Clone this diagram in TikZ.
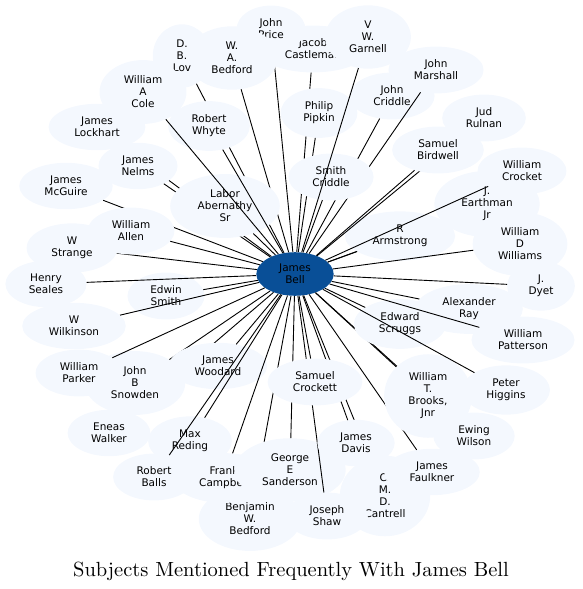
\documentclass[tikz,border=0pt]{standalone}
\usepackage{fontspec}
\newfontfamily\lbl{DejaVu Sans}
\newfontfamily\ttl{lmroman10-regular}[Extension=.otf]
\usetikzlibrary{shapes.geometric}
\definecolor{satfill}{RGB}{244,248,254}
\definecolor{hubfill}{RGB}{9,79,151}
\tikzset{
  sat/.style={ellipse, fill=satfill, inner xsep=11.5pt, inner ysep=6.5pt, align=center,
    font=\lbl\fontsize{10.5}{12}\selectfont, text=black},
  hub/.style={sat, fill=hubfill, inner ysep=5.5pt},
  link/.style={line width=0.9pt, black},
}
\begin{document}
\begin{tikzpicture}[x=1pt,y=-1pt]
\useasboundingbox (0,0) rectangle (583,589);
\node[hub] (jb) at (295,274) {James\\Bell};
% top
\node[sat] (jacob) at (313,49) {Jacob\\Castleman}; \draw[link] (jb) -- (jacob);
\node[sat] (price) at (271,29) {John\\Price}; \draw[link] (jb) -- (price);
\node[sat] (wab) at (232,58) {W.\\A.\\Bedford}; \draw[link] (jb) -- (wab);
\node[sat] (db) at (182,56) {D.\\B.\\Lov}; \draw[link] (jb) -- (db);
\node[sat] (jcri) at (392,96) {John\\Criddle}; \draw[link] (jb) -- (jcri);
\node[sat] (marsh) at (436,70) {John\\Marshall}; \draw[link] (jb) -- (marsh);
\node[sat] (pipkin) at (319,113) {Philip\\Pipkin}; \draw[link] (jb) -- (pipkin);
\node[sat] (scri) at (331,177) {Smith\\Criddle}; \draw[link] (jb) -- (scri);
\node[sat] (garn) at (368,37) {V\\W.\\Garnell}; \draw[link] (jb) -- (garn);
% upper left
\node[sat] (lock) at (97,127) {James\\Lockhart}; \draw[link] (jb) -- (lock);
\node[sat] (nelms) at (138,166) {James\\Nelms}; \draw[link] (jb) -- (nelms);
\node[sat] (labor) at (225,206) {Labor\\Abernathy\\Sr}; \draw[link] (jb) -- (labor);
\node[sat] (whyte) at (209,126) {Robert\\Whyte}; \draw[link] (jb) -- (whyte);
\node[sat] (cole) at (143,92) {William\\A\\Cole}; \draw[link] (jb) -- (cole);
\node[sat] (mcg) at (66,186) {James\\McGuire}; \draw[link] (jb) -- (mcg);
\node[sat] (strange) at (72,248) {W\\Strange}; \draw[link] (jb) -- (strange);
\node[sat] (allen) at (131,231) {William\\Allen}; \draw[link] (jb) -- (allen);
% left
\node[sat] (edwin) at (166,296) {Edwin\\Smith}; \draw[link] (jb) -- (edwin);
\node[sat] (seales) at (46,284) {Henry\\Seales}; \draw[link] (jb) -- (seales);
\node[sat] (wilk) at (74,326) {W\\Wilkinson}; \draw[link] (jb) -- (wilk);
\node[sat] (eneas) at (109,433) {Eneas\\Walker}; \draw[link] (jb) -- (eneas);
\node[sat] (snow) at (135,383) {John\\B\\Snowden}; \draw[link] (jb) -- (snow);
\node[sat] (parker) at (79,373) {William\\Parker}; \draw[link] (jb) -- (parker);
\node[sat] (wood) at (218,366) {James\\Woodard}; \draw[link] (jb) -- (wood);
% bottom
\node[sat] (max) at (190,441) {Max\\Reding}; \draw[link] (jb) -- (max);
\node[sat] (balls) at (154,477) {Robert\\Balls}; \draw[link] (jb) -- (balls);
\node[sat] (benj) at (250,519) {Benjamin\\W.\\Bedford}; \draw[link] (jb) -- (benj);
\node[sat] (frank) at (224,478) {Frank\\Campbell}; \draw[link] (jb) -- (frank);
\node[sat] (george) at (290,470) {George\\E\\Sanderson}; \draw[link] (jb) -- (george);
\node[sat] (cant) at (385,496) {C.\\M.\\D.\\Cantrell}; \draw[link] (jb) -- (cant);
\node[sat] (shaw) at (327,516) {Joseph\\Shaw}; \draw[link] (jb) -- (shaw);
\node[sat] (davis) at (356,443) {James\\Davis}; \draw[link] (jb) -- (davis);
\node[sat] (crock) at (315,382) {Samuel\\Crockett}; \draw[link] (jb) -- (crock);
% lower right
\node[sat] (faulk) at (432,472) {James\\Faulkner}; \draw[link] (jb) -- (faulk);
\node[sat] (ewing) at (474,436) {Ewing\\Wilson}; \draw[link] (jb) -- (ewing);
\node[sat] (brooks) at (428,396) {William\\T.\\Brooks,\\Jnr}; \draw[link] (jb) -- (brooks);
\node[sat] (ray) at (469,309) {Alexander\\Ray}; \draw[link] (jb) -- (ray);
\node[sat] (scrug) at (400,324) {Edward\\Scruggs}; \draw[link] (jb) -- (scrug);
\node[sat] (patt) at (523,340) {William\\Patterson}; \draw[link] (jb) -- (patt);
\node[sat] (higg) at (506,390) {Peter\\Higgins}; \draw[link] (jb) -- (higg);
% right
\node[sat] (dyet) at (541,286) {J.\\Dyet}; \draw[link] (jb) -- (dyet);
\node[sat] (earth) at (487,204) {J.\\Earthman\\Jr}; \draw[link] (jb) -- (earth);
\node[sat] (arm) at (400,236) {R\\Armstrong}; \draw[link] (jb) -- (arm);
\node[sat] (wdw) at (520,244) {William\\D\\Williams}; \draw[link] (jb) -- (wdw);
\node[sat] (crocket) at (522,171) {William\\Crocket}; \draw[link] (jb) -- (crocket);
\node[sat] (jud) at (484,118) {Jud\\Rulnan}; \draw[link] (jb) -- (jud);
\node[sat] (bird) at (438,150) {Samuel\\Birdwell}; \draw[link] (jb) -- (bird);
% title
\node[anchor=base, inner sep=0pt] (title) at (291,576) {\ttl\fontsize{20.5}{24}\selectfont Subjects Mentioned Frequently With James Bell};
\end{tikzpicture}
\end{document}
